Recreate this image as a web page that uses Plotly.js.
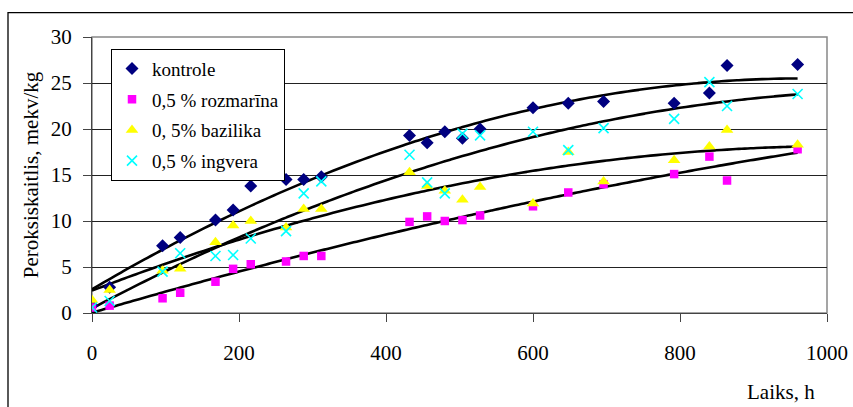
<!DOCTYPE html>
<html>
<head>
<meta charset="utf-8">
<script src="https://cdn.plot.ly/plotly-3.0.1.min.js"></script>
<style>html,body{margin:0;padding:0;background:#fff;}#chart{width:853px;height:407px;}</style>
</head>
<body>
<div id="chart"></div>
<script>
// ---- data ----
const hours     = [0, 24, 96, 120, 168, 192, 216, 264, 288, 312, 432, 456, 480, 504, 528, 600, 648, 696, 792, 840, 864, 960];
const kontrole  = [0.8, 2.8, 7.3, 8.2, 10.1, 11.2, 13.8, 14.5, 14.5, 14.8, 19.3, 18.5, 19.7, 19.0, 20.0, 22.3, 22.8, 23.0, 22.8, 23.9, 26.9, 27.0];
const rozmarina = [0.6, 0.8, 1.6, 2.2, 3.4, 4.8, 5.3, 5.6, 6.2, 6.2, 9.9, 10.5, 10.0, 10.1, 10.6, 11.6, 13.1, 14.0, 15.1, 17.0, 14.4, 17.8];
const bazilika  = [1.4, 2.5, 4.6, 4.8, 7.7, 9.5, 10.0, 9.3, 11.3, 11.3, 15.3, 13.8, 13.3, 12.3, 13.7, 11.9, 17.5, 14.3, 16.6, 18.1, 19.9, 18.3];
const ingvera   = [0.6, 1.3, 4.5, 6.5, 6.2, 6.3, 8.1, 8.9, 13.0, 14.3, 17.2, 14.2, 13.0, 19.5, 19.3, 19.7, 17.7, 20.1, 21.1, 25.1, 22.5, 23.8];
const seriesNames = ['kontrole', '0,5 % rozmarīna', '0, 5% bazilika', '0,5 % ingvera'];
const xTicks = [0, 200, 400, 600, 800, 1000];
const yTicks = [0, 5, 10, 15, 20, 25, 30];

// ---- polynomial trendline (least squares), as in the spreadsheet chart ----
function polyfit(xs, ys, deg) {
  const px = [], py = [];
  xs.forEach((x, i) => { if (ys[i] !== null && ys[i] !== undefined) { px.push(x / 1000); py.push(ys[i]); } });
  const n = deg + 1;
  const A = Array.from({length: n}, () => new Array(n + 1).fill(0));
  for (let k = 0; k < px.length; k++) {
    for (let i = 0; i < n; i++) {
      for (let j = 0; j < n; j++) A[i][j] += Math.pow(px[k], i + j);
      A[i][n] += py[k] * Math.pow(px[k], i);
    }
  }
  for (let c = 0; c < n; c++) {
    let p = c;
    for (let r = c + 1; r < n; r++) if (Math.abs(A[r][c]) > Math.abs(A[p][c])) p = r;
    [A[c], A[p]] = [A[p], A[c]];
    for (let r = 0; r < n; r++) {
      if (r === c) continue;
      const f = A[r][c] / A[c][c];
      for (let j = c; j <= n; j++) A[r][j] -= f * A[c][j];
    }
  }
  const coef = A.map((row, i) => row[n] / row[i]);
  return x => coef.reduce((s, a, i) => s + a * Math.pow(x / 1000, i), 0);
}
const tx = [];
for (let h = 0; h <= hours[hours.length - 1]; h += 8) tx.push(h);

const FONT = 'Liberation Serif';
const styles = [
  {symbol: 'diamond', size: 10, color: '#000080'},
  {symbol: 'square', size: 8.5, color: '#FF00FF'},
  {symbol: 'triangle-up', size: 11, color: '#FFFF00'},
  {symbol: 'x-thin-open', size: 10, color: '#00FFFF', line: {color: '#00FFFF', width: 1.6}}
];
const allSeries = [kontrole, rozmarina, bazilika, ingvera];

const traces = [];
allSeries.forEach((ys, i) => {
  const f = polyfit(hours, ys, 2);
  traces.push({
    x: tx, y: tx.map(f), mode: 'lines', type: 'scatter',
    line: {color: '#000', width: 2.6, shape: 'spline'},
    showlegend: false, hoverinfo: 'skip'
  });
});
allSeries.forEach((ys, i) => {
  const s = styles[i];
  traces.push({
    x: hours, y: ys, mode: 'markers', type: 'scatter', name: seriesNames[i],
    legendgroup: 'g' + i,
    marker: {symbol: s.symbol, size: s.size, color: s.color, line: s.line || {width: 0}}
  });
});

const px2x = p => (p - 92) / 735;
const px2y = q => (313.3 - q) / 276;

const layout = {
  width: 853, height: 407,
  margin: {l: 92, r: 26, t: 37, b: 94},
  paper_bgcolor: '#fff', plot_bgcolor: '#fff',
  font: {family: FONT, color: '#000', size: 21},
  showlegend: true,
  legend: {
    x: px2x(111), y: px2y(49), xanchor: 'left', yanchor: 'top',
    bordercolor: '#000', borderwidth: 1, bgcolor: '#fff',
    font: {family: FONT, size: 19, color: '#000'},
    tracegroupgap: 3, traceorder: 'grouped'
  },
  xaxis: {
    range: [0, 1000], tickvals: xTicks, ticks: 'outside', ticklen: 8, tickcolor: '#444',
    showline: true, linecolor: '#444', linewidth: 1, showgrid: false, zeroline: false,
    tickfont: {family: FONT, size: 21}, ticklabelstandoff: 13, fixedrange: true
  },
  yaxis: {
    range: [0, 30], tickvals: yTicks, ticks: 'outside', ticklen: 8, tickcolor: '#444',
    showline: true, linecolor: '#444', linewidth: 1,
    showgrid: true, gridcolor: '#222', gridwidth: 1, zeroline: false,
    tickfont: {family: FONT, size: 21}, ticklabelstandoff: 7,
    title: {text: 'Peroksiskaitlis, mekv/kg', font: {family: FONT, size: 21}, standoff: 6},
    fixedrange: true
  },
  shapes: [
    {type: 'rect', xref: 'paper', yref: 'paper', x0: 0, x1: 1, y0: 0, y1: 1,
     line: {color: '#888', width: 1.5}, layer: 'below'},
    {type: 'path', xref: 'paper', yref: 'paper',
     path: 'M ' + px2x(8) + ' ' + px2y(430) + ' L ' + px2x(8) + ' ' + px2y(13) + ' L ' + px2x(870) + ' ' + px2y(13),
     line: {color: '#000', width: 1.3}}
  ],
  annotations: [
    {text: 'Laiks, h', xref: 'paper', yref: 'paper', x: px2x(781), y: px2y(392),
     xanchor: 'center', yanchor: 'middle', showarrow: false, font: {family: FONT, size: 21}}
  ]
};

Plotly.newPlot('chart', traces, layout, {displayModeBar: false, staticPlot: true});
</script>
</body>
</html>
